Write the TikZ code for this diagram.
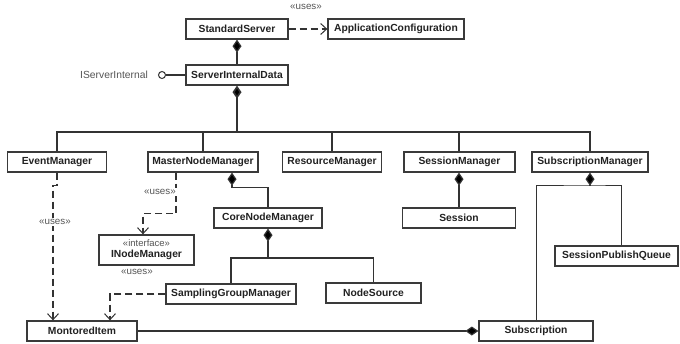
\documentclass[tikz,border=0pt]{standalone}
\usepackage{fontspec}
\setmainfont{Liberation Sans}
\usetikzlibrary{arrows.meta}
\definecolor{boxline}{HTML}{3A3A3A}
\definecolor{wire}{HTML}{333333}
\definecolor{stereo}{HTML}{555555}
\definecolor{labeltext}{HTML}{222222}
\tikzset{
  cls/.style={draw=boxline, line width=1.3pt, fill=white, text=labeltext,
    font=\bfseries\fontsize{10.3}{12}\selectfont,
    minimum height=20pt, inner sep=0pt},
  conn/.style={draw=wire, line width=1.2pt},
  comp/.style={conn, {Diamond[length=13pt,width=9pt,fill=black]}-},
  dep/.style={draw=wire, line width=1.2pt, dash pattern=on 7pt off 4pt,
    -{Straight Barb[length=6pt,width=11pt,line width=1pt]}},
  stereolbl/.style={text=stereo, font=\fontsize{9.8}{11}\selectfont, inner sep=1pt},
}
\begin{document}
\begin{tikzpicture}[x=1pt, y=-1pt]
\path[use as bounding box, fill=white] (0,0) rectangle (680,343);

% classes
\node[cls, minimum width=102pt] (ss)   at (237,29)  {StandardServer};
\node[cls, minimum width=136pt] (ac)   at (396,29)  {ApplicationConfiguration};
\node[cls, minimum width=102pt] (sid)  at (237,75)  {ServerInternalData};
\node[cls, minimum width=99pt]  (em)   at (57,162)  {EventManager};
\node[cls, minimum width=110pt] (mnm)  at (203,162) {MasterNodeManager};
\node[cls, minimum width=99pt]  (rm)   at (332,162) {ResourceManager};
\node[cls, minimum width=111pt] (sm)   at (459.5,162) {SessionManager};
\node[cls, minimum width=116pt] (subm) at (590,162) {SubscriptionManager};
\node[cls, minimum width=113pt] (sess) at (459,218) {Session};
\node[cls, minimum width=108pt] (cnm)  at (268,218) {CoreNodeManager};
\node[cls, minimum width=123pt] (spq)  at (616.5,256) {SessionPublishQueue};
\node[cls, minimum width=95pt, minimum height=30pt, align=center] (inm) at (146.5,250)
  {{\mdseries\color{stereo}\fontsize{9.5}{11}\selectfont «interface»}\\[-1pt]INodeManager};
\node[cls, minimum width=130pt] (sgm)  at (231,294) {SamplingGroupManager};
\node[cls, minimum width=95pt]  (ns)   at (373.5,293) {NodeSource};
\node[cls, minimum width=110pt] (mi)   at (82,331)  {MontoredItem};
\node[cls, minimum width=114pt] (sub)  at (536,331) {Subscription};

% StandardServer uses ApplicationConfiguration
\draw[dep] (ss.east) -- (ac.west);
\node[stereolbl] (u1) at (306,7) {«uses»};

% StandardServer owns ServerInternalData
\draw[comp] (ss.south) -- (sid.north);

% provided interface
\node[draw=wire, line width=1pt, circle, fill=white, inner sep=0pt, minimum size=7pt] (lp) at (162,75) {};
\draw[conn] (lp.east) -- (sid.west);
\node[text=stereo, font=\fontsize{10.3}{12}\selectfont, anchor=east, inner sep=0pt] (isi) at (148,75) {IServerInternal};

% ServerInternalData owns the managers
\coordinate (bus) at (237,132);
\draw[comp, line width=1.7pt] (sid.south) -- (bus);
\draw[conn, line width=1.3pt] (em.north) |- (bus) -| (subm.north);
\draw[conn] (mnm.north) -- (mnm.north |- bus);
\draw[conn] (rm.north) -- (rm.north |- bus);
\draw[conn] ([xshift=-0.5pt]sm.north) -- ([xshift=-0.5pt]sm.north |- bus);

% SessionManager owns Session
\draw[comp] (sess.north |- sm.south) -- (sess.north);

% SubscriptionManager owns Subscription and SessionPublishQueue
\coordinate (sj) at (590,185);
\draw[comp] (subm.south) -- (sj);
\draw[conn, line width=1pt] (sub.north) |- (sj) -| ([xshift=4.5pt]spq.north);

% MasterNodeManager owns CoreNodeManager
\draw[comp] ([xshift=29pt]mnm.south) -- ++(0,15) -| (cnm.north);

% MasterNodeManager uses INodeManager
\draw[dep] ([xshift=-27pt]mnm.south) -- ++(0,41) -| ([xshift=-3.5pt]inm.north);
\node[stereolbl, fill=white] (u2) at (160,192) {«uses»};

% CoreNodeManager owns SamplingGroupManager and NodeSource
\coordinate (cj) at (268,258);
\draw[comp] (cnm.south) -- (cj);
\draw[conn] (sgm.north) |- (cj) -| (ns.north);

% EventManager uses MontoredItem
\draw[dep] (em.south) -- ++(0,13) -| ([xshift=-29pt]mi.north);
\node[stereolbl, fill=white] (u3) at (55,222) {«uses»};

% SamplingGroupManager uses MontoredItem
\draw[dep] (sgm.west) -| ([xshift=28pt]mi.north);
\node[stereolbl] (u4) at (137,272) {«uses»};

% Subscription owns MontoredItem
\draw[comp] (sub.west) -- (mi.east);
\end{tikzpicture}
\end{document}
